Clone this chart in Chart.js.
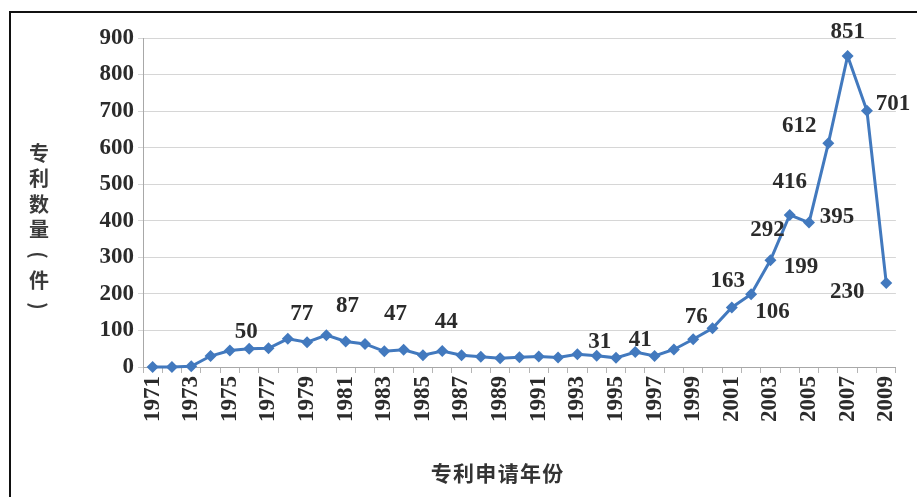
<!DOCTYPE html>
<html>
<head>
<meta charset="utf-8">
<script src="https://cdn.jsdelivr.net/npm/chart.js@4.4.1/dist/chart.umd.min.js"></script>
<style>
html, body { margin: 0; padding: 0; background: #fff; }
</style>
</head>
<body>
<canvas id="myChart" width="917" height="497"></canvas>
<script>
// datos del grafico
const years = ['1971','1972','1973','1974','1975','1976','1977','1978','1979','1980',
               '1981','1982','1983','1984','1985','1986','1987','1988','1989','1990',
               '1991','1992','1993','1994','1995','1996','1997','1998','1999','2000',
               '2001','2002','2003','2004','2005','2006','2007','2008','2009'];
const patents = [0, 0, 2, 30, 45, 50, 51, 77, 68, 87,
                 70, 63, 43, 47, 32, 44, 32, 28, 24, 27,
                 29, 26, 35, 31, 25, 41, 30, 48, 76, 106,
                 163, 199, 292, 416, 395, 612, 851, 701, 230];
const labeledYears = ['1976','1978','1980','1984','1986','1994','1996','1999','2000',
                      '2001','2002','2003','2004','2005','2006','2007','2008','2009'];
const yTitle = ['专', '利', '数', '量', '(', '件', ')'];
const xTitle = '专利申请年份';

const serif = '"Liberation Serif", "Times New Roman", serif';
const cjk = '"Noto Sans CJK SC", sans-serif';
const blue = '#4279be';

// desplazamiento de cada etiqueta respecto a su punto
const labelShift = {
    '1976': [-3, -17], '1978': [14, -25], '1980': [21, -29], '1984': [-8, -36],
    '1986': [4, -29], '1994': [3, -14], '1996': [5, -12], '1999': [3, -22],
    '2000': [60, -16], '2001': [-4, -26], '2002': [50, -27], '2003': [-3, -30],
    '2004': [0, -33], '2005': [28, -6], '2006': [-29, -17], '2007': [0, -24],
    '2008': [26, -7], '2009': [-39, 9]
};

const decor = {
    id: 'decor',
    afterDraw(chart) {
        const c = chart.ctx;
        c.save();
        // marco
        c.fillStyle = '#111';
        c.fillRect(9, 11, 917, 2);
        c.fillRect(9, 11, 2, 497);

        // titulo eje y (vertical, parentesis girados)
        c.fillStyle = '#3a3a3a';
        c.font = 'bold 20px ' + cjk;
        c.textAlign = 'center';
        c.textBaseline = 'middle';
        yTitle.forEach((ch, i) => {
            const y = 153 + i * 25.5;
            if (ch === '(' || ch === ')') {
                c.save();
                c.translate(39, y);
                c.rotate(Math.PI / 2);
                c.fillText(ch, 0, 0);
                c.restore();
            } else {
                c.fillText(ch, 39, y);
            }
        });

        // titulo eje x
        c.font = 'bold 21px ' + cjk;
        c.fillStyle = '#333';
        c.fillText(xTitle.split('').join(String.fromCharCode(8202)), 497, 473);

        // etiquetas de datos
        const meta = chart.getDatasetMeta(0);
        c.fillStyle = '#2b2b2b';
        c.font = 'bold 23px ' + serif;
        labeledYears.forEach(yr => {
            const i = years.indexOf(yr);
            const p = meta.data[i];
            const s = labelShift[yr] || [0, -20];
            c.fillText(String(patents[i]), p.x + s[0], p.y + s[1]);
        });
        c.restore();
    }
};

const ctx = document.getElementById('myChart').getContext('2d');
const myChart = new Chart(ctx, {
    type: 'line',
    data: {
        labels: years,
        datasets: [{
            label: '专利数量',
            data: patents,
            borderColor: blue,
            backgroundColor: blue,
            borderWidth: 3,
            pointStyle: 'rectRot',
            pointRadius: 6,
            pointBorderWidth: 0,
            pointBackgroundColor: blue,
            tension: 0,
            clip: false
        }]
    },
    options: {
        responsive: false,
        animation: false,
        devicePixelRatio: 1,
        layout: { padding: { left: 10, right: 12, top: 38, bottom: 0 } },
        plugins: {
            legend: { display: false },
            tooltip: { enabled: false }
        },
        scales: {
            x: {
                offset: true,
                grid: { offset: true, drawOnChartArea: false, tickLength: 6, color: '#b5b5b5' },
                border: { color: '#a8a8a8', width: 1 },
                ticks: {
                    autoSkip: false,
                    maxRotation: 90,
                    minRotation: 90,
                    padding: 3,
                    color: '#2b2b2b',
                    font: { family: serif, size: 23, weight: 'bold' },
                    callback: function (v, i) { return i % 2 === 0 ? this.getLabelForValue(v) : ''; }
                },
                afterFit: s => { s.height = 130; }
            },
            y: {
                min: 0,
                max: 900,
                grid: { color: '#d6d6d6', tickLength: 5 },
                border: { color: '#a8a8a8', width: 1 },
                ticks: {
                    stepSize: 100,
                    padding: 4,
                    color: '#2b2b2b',
                    font: { family: serif, size: 23, weight: 'bold' }
                },
                afterFit: s => { s.width = 133; }
            }
        }
    },
    plugins: [decor]
});
</script>
</body>
</html>
